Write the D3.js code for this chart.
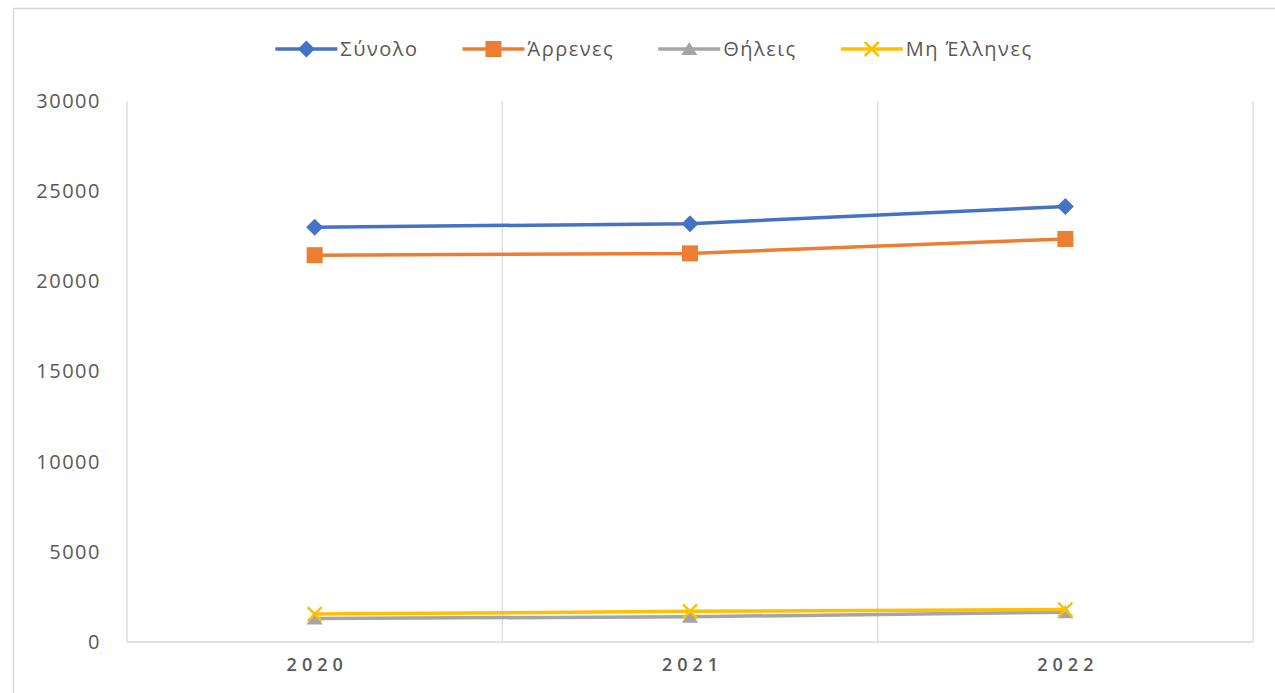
<!DOCTYPE html>
<html>
<head>
<meta charset="utf-8">
<script src="https://cdn.jsdelivr.net/npm/d3@7"></script>
<style>
  body { margin: 0; background: #fff; }
  text { font-family: "Open Sans", "DejaVu Sans", sans-serif; fill: #595959; }
</style>
</head>
<body>
<div id="chart"></div>
<script>
// chart values
var years = ["2020", "2021", "2022"];
var seriesNames = ["Σύνολο", "Άρρενες", "Θήλεις", "Μη Έλληνες"];
var total = [23000, 23200, 24150];
var males = [21450, 21550, 22350];
var females = [1300, 1400, 1650];
var nonGreek = [1550, 1700, 1800];
var yTicks = [0, 5000, 10000, 15000, 20000, 25000, 30000];

var colors = ["#4472C4", "#ED7D31", "#A5A5A5", "#FFC000"];
var markers = ["diamond", "square", "triangle", "cross"];
var allSeries = [total, males, females, nonGreek];

var W = 1275, H = 693;
var margin = {top: 101, right: 22, bottom: 51, left: 127};
var width = W - margin.left - margin.right,
    height = H - margin.top - margin.bottom;

var svg = d3.select("#chart").append("svg")
    .attr("width", W)
    .attr("height", H);

// outer chart frame
svg.append("rect")
    .attr("x", 13.5).attr("y", 8.5)
    .attr("width", 1290).attr("height", 720)
    .attr("fill", "none")
    .attr("stroke", "#d9d9d9")
    .attr("stroke-width", 1.5);

var g = svg.append("g")
    .attr("transform", "translate(" + margin.left + "," + margin.top + ")");

var x = d3.scaleBand().domain(years).range([0, width]);
var y = d3.scaleLinear().domain([0, 30000]).range([height, 0]);

// vertical grid lines between categories
var bounds = d3.range(years.length + 1).map(function(i) { return i * x.step(); });
g.selectAll(".vgrid")
    .data(bounds)
    .enter().append("line")
    .attr("class", "vgrid")
    .attr("x1", function(d) { return d; })
    .attr("x2", function(d) { return d; })
    .attr("y1", 0)
    .attr("y2", height)
    .attr("stroke", "#d9d9d9")
    .attr("stroke-width", 1.2);

// baseline
g.append("line")
    .attr("x1", 0).attr("x2", width)
    .attr("y1", height).attr("y2", height)
    .attr("stroke", "#d9d9d9")
    .attr("stroke-width", 1.5);

// y axis labels
var yAxis = g.append("g")
    .call(d3.axisLeft(y).tickValues(yTicks).tickFormat(d3.format("d")).tickSize(0).tickPadding(26));
yAxis.select(".domain").remove();
yAxis.selectAll("text")
    .style("font-size", "20px")
    .style("letter-spacing", "1.5px")
    .attr("fill", "#636363");

// x axis labels
var xAxis = g.append("g")
    .attr("transform", "translate(0," + height + ")")
    .call(d3.axisBottom(x).tickSize(0).tickPadding(16));
xAxis.select(".domain").remove();
xAxis.selectAll("text")
    .style("font-size", "18px")
    .style("font-weight", "600")
    .style("letter-spacing", "5px")
    .attr("dx", "2.5px")
    .attr("fill", "#6a6a6a");

var line = d3.line()
    .x(function(d, i) { return x(years[i]) + x.bandwidth() / 2; })
    .y(function(d) { return y(d); });

function drawMarker(sel, type, color) {
    if (type == "diamond") {
        sel.append("path").attr("d", "M0,-8.5L8.5,0L0,8.5L-8.5,0Z").attr("fill", color);
    } else if (type == "square") {
        sel.append("rect").attr("x", -8).attr("y", -8).attr("width", 16).attr("height", 16).attr("fill", color);
    } else if (type == "triangle") {
        sel.append("path").attr("d", "M0,-7L8,6L-8,6Z").attr("fill", color);
    } else {
        sel.append("path").attr("d", "M-7,-7L7,7M-7,7L7,-7")
            .attr("stroke", color).attr("stroke-width", 2.5).attr("fill", "none");
    }
}

// draw series in order: females below non-greeks
var order = [2, 3, 1, 0];
order.forEach(function(s) {
    var data = allSeries[s];
    g.append("path")
        .datum(data)
        .attr("d", line)
        .attr("fill", "none")
        .attr("stroke", colors[s])
        .attr("stroke-width", 3.5)
        .attr("stroke-linejoin", "round");
    data.forEach(function(v, i) {
        var m = g.append("g")
            .attr("transform", "translate(" + (x(years[i]) + x.bandwidth() / 2) + "," + y(v) + ")");
        drawMarker(m, markers[s], colors[s]);
    });
});

// legend
var legend = svg.append("g").attr("class", "legend");
var lx = 0;
seriesNames.forEach(function(name, i) {
    var item = legend.append("g").attr("transform", "translate(" + lx + ",0)");
    item.append("line")
        .attr("x1", 0).attr("x2", 62)
        .attr("y1", 0).attr("y2", 0)
        .attr("stroke", colors[i])
        .attr("stroke-width", 3.5);
    var m = item.append("g").attr("transform", "translate(31,0)");
    drawMarker(m, markers[i], colors[i]);
    var t = item.append("text")
        .attr("x", 65)
        .attr("y", 7)
        .style("font-size", "20px")
        .style("letter-spacing", "1.5px")
        .text(name);
    lx += 65 + t.node().getComputedTextLength() + 44;
});
lx -= 44;
legend.attr("transform", "translate(" + (654 - lx / 2) + ",49)");
</script>
</body>
</html>
